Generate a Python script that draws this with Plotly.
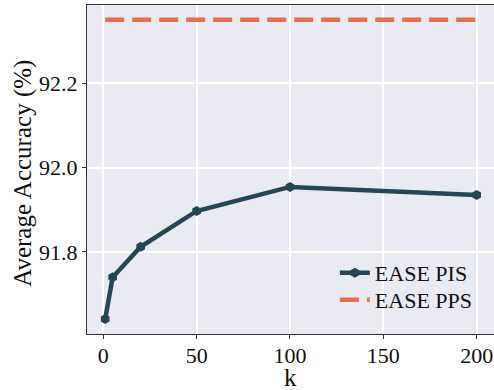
import plotly.graph_objects as go

k_values = [1, 5, 20, 50, 100, 200]
pis_accuracy = [91.641, 91.740, 91.812, 91.897, 91.954, 91.935]
pps_k = [1, 200]
pps_accuracy = [92.350, 92.350]

x_ticks = [0, 50, 100, 150, 200]
y_ticks = [91.8, 92.0, 92.2]
y_tick_labels = ["91.8", "92.0", "92.2"]

FONT = "Liberation Serif, Times New Roman, serif"
DARK = "#264653"
ORANGE = "#E76F51"
TXT = "#111111"

fig = go.Figure()
fig.add_trace(go.Scatter(
    x=k_values, y=pis_accuracy, mode="lines+markers", name="EASE PIS",
    line=dict(color=DARK, width=4.5),
    marker=dict(symbol="hexagon", size=10, color=DARK),
    legend="legend",
))
fig.add_trace(go.Scatter(
    x=pps_k, y=pps_accuracy, mode="lines", name="EASE PPS",
    line=dict(color=ORANGE, width=4.5, dash="19px,8px"),
    legend="legend2",
))

leg_common = dict(xanchor="left", yanchor="middle", bgcolor="rgba(0,0,0,0)",
                  font=dict(size=22, family=FONT, color=TXT),
                  itemwidth=30, borderwidth=0)

fig.update_layout(
    width=494, height=390,
    margin=dict(l=87, r=0, t=5, b=56, autoexpand=False),
    paper_bgcolor="white",
    plot_bgcolor="#EAEAF2",
    font=dict(family=FONT, size=22, color=TXT),
    showlegend=True,
    legend=dict(x=0.609, y=0.1854, **leg_common),
    legend2=dict(x=0.609, y=0.1033, **leg_common),
    annotations=[
        dict(text="Average Accuracy (%)", xref="paper", yref="paper",
             x=-0.158, y=0.489, textangle=-90, showarrow=False,
             font=dict(size=25, family=FONT, color=TXT),
             xanchor="center", yanchor="middle"),
        dict(text="k", xref="paper", yref="paper",
             x=0.5, y=-0.133, showarrow=False,
             font=dict(size=25, family=FONT, color=TXT),
             xanchor="center", yanchor="middle"),
    ],
)
fig.update_xaxes(
    range=[-8.75, 209.3], tickvals=x_ticks, automargin=False,
    showgrid=True, gridcolor="white", gridwidth=1.8,
    showline=True, linecolor="#333333", linewidth=1.3, mirror=True,
    ticks="outside", ticklen=4, tickcolor="#333333",
    zeroline=False, ticklabelstandoff=-3,
    tickfont=dict(size=22, family=FONT, color=TXT),
)
fig.update_yaxes(
    range=[91.6055, 92.385], tickvals=y_ticks, ticktext=y_tick_labels, automargin=False,
    showgrid=True, gridcolor="white", gridwidth=1.8,
    showline=True, linecolor="#333333", linewidth=1.3,
    ticks="outside", ticklen=4, tickcolor="#333333",
    zeroline=False,
    tickfont=dict(size=22, family=FONT, color=TXT),
)

fig.write_html(
    "out.html",
    config={"displayModeBar": False},
    post_script="document.body.style.margin='0';document.body.style.padding='0';document.body.style.overflow='hidden';",
)
